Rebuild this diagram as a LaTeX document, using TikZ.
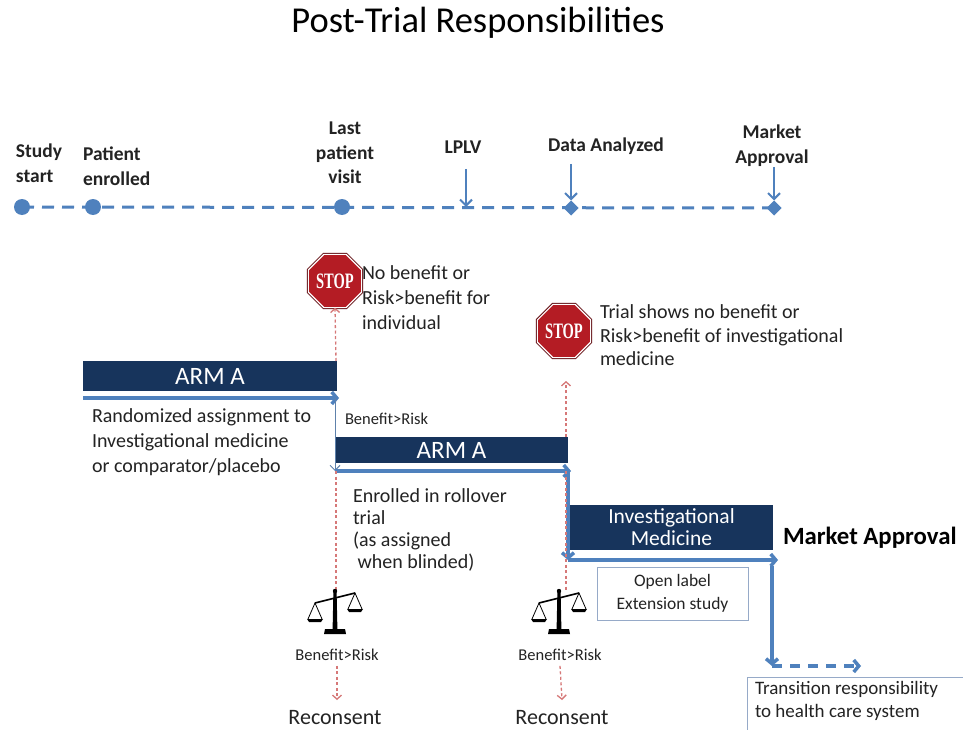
\documentclass[tikz,border=0pt]{standalone}
\usepackage{graphicx}
\usepackage{fontspec}
\setmainfont{Carlito}
\newfontfamily\stopfont{Liberation Serif}
\usetikzlibrary{shapes.geometric,arrows.meta}
\definecolor{navy}{RGB}{23,52,92}
\definecolor{tblue}{RGB}{79,129,189}
\definecolor{rdash}{RGB}{214,120,120}
\definecolor{stopred}{RGB}{180,28,36}
\definecolor{boxline}{RGB}{150,170,200}
\definecolor{txt}{RGB}{35,35,35}
\newcommand\fsz[2]{\fontsize{#1}{#2}\selectfont}
\tikzset{
  titlestyle/.style={font=\fsz{36.5}{40}, anchor=base, text=black},
  tlab/.style={font=\bfseries\fsz{19.5}{24.5}, align=center, anchor=north},
  tlabl/.style={tlab, align=left, anchor=north west},
  body/.style={font=\fsz{20}{25}, align=left, anchor=north west},
  smalltxt/.style={font=\fsz{16.5}{20}},
  armbox/.style={fill=navy, text=white, font=\fsz{25}{26}, align=center, anchor=north west},
  tdot/.style={circle, fill=tblue, minimum size=16pt},
  tdia/.style={diamond, fill=tblue, minimum size=15pt},
  tline/.style={draw=tblue, line width=3pt, dash pattern=on 12pt off 8pt},
  tarrow/.style={draw=tblue, line width=2pt, -{Straight Barb[length=6pt,width=12pt]}},
  bluearrow/.style={draw=tblue, line width=3.5pt, -{Straight Barb[length=5pt,width=12pt]}},
  thinarrow/.style={draw=tblue!70!gray, line width=1pt, -{Straight Barb[length=5pt,width=10pt]}},
  reddot/.style={draw=rdash, line width=1.3pt, dash pattern=on 3pt off 2.5pt},
  redarrow/.style={reddot, -{Straight Barb[length=4pt,width=9pt]}},
  stopsign/.style={regular polygon, regular polygon sides=8, minimum size=48pt,
     fill=stopred, draw=white, line width=1.2pt,
     preaction={draw=stopred!55!black, line width=3pt},
     text=white, font=\stopfont\bfseries\fsz{22}{22}},
  plainbox/.style={draw=boxline, line width=1pt, fill=white, anchor=north west},
  balance/.pic={
    \fill[black] (-1.6,0) -- (1.6,0) -- (2.4,37) -- (-2.4,37) -- cycle;
    \fill[black] (-10,37) -- (10,37) -- (11,42) -- (-11,42) -- cycle;
    \fill[black] (0,-1) circle (2.2);
    \draw[black, line width=1.6pt] (-20,11) -- (20,1);
    \draw[black, line width=0.8pt] (-27,27) -- (-20,11) -- (-13,27);
    \draw[black, line width=0.8pt] (13,17) -- (20,1) -- (27,17);
    \fill[black] (-28,27) -- (-12,27) -- (-14,30) -- (-26,30) -- cycle;
    \fill[black] (12,17) -- (28,17) -- (26,20) -- (14,20) -- cycle;
  }
}
\begin{document}
\begin{tikzpicture}[x=1pt,y=-1pt, every node/.style={inner sep=0pt, outer sep=0pt, text=txt}]
\useasboundingbox[fill=white] (0,0) rectangle (963,730);

% title
\node[titlestyle] (title) at (478,33) {Post-Trial Responsibilities};

% timeline
\coordinate (t1) at (22,207);
\coordinate (t2) at (93,207);
\coordinate (t3) at (342,207);
\coordinate (t4) at (466,207);
\coordinate (t5) at (571,208);
\coordinate (t6) at (774,208);
\draw[tline] (t1) -- (t6);
\node[tdot] (sstart) at (t1) {};
\node[tdot] (penr) at (t2) {};
\node[tdot] (lpv) at (t3) {};
\node[tdia] (dan) at (t5) {};
\node[tdia] (mapp) at (t6) {};

\node[tlabl] (lstudy) at (16,144) {Study\\start};
\node[tlabl] (lpat) at (83,147) {Patient\\enrolled};
\node[tlab] (llast) at (345,122) {Last\\patient\\visit};
\node[tlab] (llplv) at (463,141) {LPLV};
\node[tlab] (ldata) at (606,138) {Data Analyzed};
\node[tlab] (lmarket) at (772,125) {Market\\Approval};
\coordinate (a4) at (466,169);
\coordinate (a5) at (571,164);
\coordinate (a6) at (774,167);
\draw[tarrow] (a4) -- (t4);
\draw[tarrow] (a5) -- (dan.north);
\draw[tarrow] (a6) -- (mapp.north);

% stop signs
\node[stopsign] (stop1) at (335,281) {\scalebox{0.66}[1]{STOP}};
\node[body] (stoptxt1) at (362,266) {No benefit or\\Risk>benefit for\\individual};
\node[stopsign] (stop2) at (564,331) {\scalebox{0.66}[1]{STOP}};
\node[body, font=\fsz{20}{23.5}] (stoptxt2) at (600,305) {Trial shows no benefit or\\Risk>benefit of investigational\\medicine};

% ARM A 1
\node[armbox, minimum width=254pt, minimum height=30pt] (arm1) at (83,361) {ARM A};
\coordinate (b1s) at (83,398);
\coordinate (b1e) at (339,398);
\coordinate (b1k) at (335,398);
\draw[bluearrow] (b1s) -- (b1e);
\node[body] (rand) at (92,409) {Randomized assignment to\\Investigational medicine\\or comparator/placebo};
\node[anchor=north west, smalltxt] (benef1) at (345,413) {Benefit>Risk};

% ARM A 2
\node[armbox, minimum width=233pt, minimum height=26pt] (arm2) at (335,437) {ARM A};
\coordinate (b2s) at (335,471);
\coordinate (b2e) at (571,471);
\coordinate (b2k) at (568,471);
\draw[thinarrow] (b1k) -- (b2s);
\draw[bluearrow] (b2s) -- (b2e);
\node[body, font=\fsz{20}{22}] (enr) at (353,489) {Enrolled in rollover\\trial\\(as assigned\\\ when blinded)};

% Investigational medicine
\node[armbox, minimum width=203pt, minimum height=45pt, font=\fsz{21.5}{22}] (invmed) at (570,505) {Investigational\\Medicine};
\coordinate (b3s) at (568,560);
\coordinate (b3e) at (778,560);
\draw[bluearrow] (b2k) -- (b3s);
\draw[bluearrow] (b3s) -- (b3e);
\node[anchor=base west, font=\bfseries\fsz{24.8}{26}, text=black] (mkt) at (783,544) {Market Approval};

\node[plainbox, minimum width=151pt, minimum height=53pt, font=\fsz{17.5}{23}, align=center] (olabel) at (597,567) {Open label\\Extension study};

\coordinate (b4s) at (772,566);
\coordinate (b4e) at (772,666);
\coordinate (b5e) at (861,666);
\draw[bluearrow] (b4s) -- (b4e);
\draw[bluearrow, dash pattern=on 10pt off 8pt] (b4e) -- (b5e);
\node[plainbox, minimum width=216pt, minimum height=53pt] (trans) at (747,677) {};
\node[body, font=\fsz{19}{23}] (transtxt) at (755,681) {Transition responsibility\\to health care system};

% red dotted connectors
\coordinate (r1a) at (336,361);
\coordinate (r1b) at (336,471);
\coordinate (r1c) at (336,590);
\coordinate (r2a) at (566,437);
\coordinate (r2b) at (566,471);
\coordinate (r2c) at (566,591);
\coordinate (r2t) at (566,381);
\draw[redarrow] (r1a) -- (stop1.south);
\draw[reddot] (r1b) -- (r1c);
\draw[redarrow] (r2a) -- (r2t);
\draw[reddot] (r2b) -- (r2c);

% balances
\pic (bal1) at (335,592) {balance};
\pic (bal2) at (559,592) {balance};
\node[smalltxt] (br1) at (337,655) {Benefit>Risk};
\node[smalltxt] (br2) at (560,655) {Benefit>Risk};
\node[font=\fsz{22}{24}, anchor=base] (rc1) at (335,724) {Reconsent};
\node[font=\fsz{22}{24}, anchor=base] (rc2) at (562,724) {Reconsent};
\coordinate (d1) at (337,700);
\coordinate (d2) at (562,700);
\draw[redarrow] ([yshift=-5pt]br1.south) -- (d1);
\draw[redarrow] ([yshift=-5pt]br2.south) -- (d2);
\end{tikzpicture}
\end{document}
